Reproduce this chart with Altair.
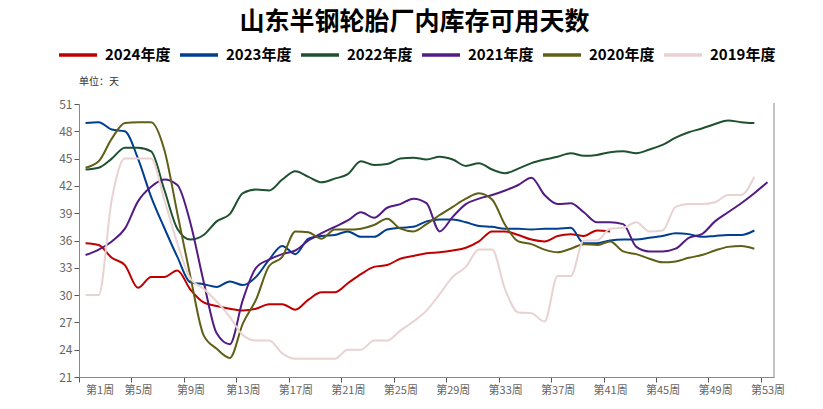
import altair as alt
import pandas as pd

weeks = list(range(1, 54))

s2024 = [35.7, 35.5, 34.1, 33.3, 30.8, 32.0, 32.0, 32.7, 30.6, 29.2, 28.8, 28.5, 28.3,
         28.5, 29.0, 29.0, 28.4, 29.5, 30.3, 30.3, 31.3, 32.3, 33.1, 33.3, 34.0, 34.3, 34.6,
         34.7, 34.9, 35.2, 35.9, 37.0, 37.0, 36.6, 36.1, 35.9, 36.5, 36.7, 36.5, 37.1, 37.0]
s2023 = [48.9, 49.0, 48.2, 48.0, 45.0, 40.8, 37.4, 34.2, 31.4, 31.2, 30.9, 31.5, 31.1,
         32.0, 33.9, 35.4, 34.5, 36.2, 36.5, 36.6, 37.0, 36.4, 36.4, 37.2, 37.4, 37.5, 38.1,
         38.3, 38.3, 38.0, 37.6, 37.5, 37.3, 37.3, 37.2, 37.3, 37.3, 37.4, 35.7, 35.7,
         36.0, 36.1, 36.1, 36.3, 36.5, 36.8, 36.7, 36.4, 36.5, 36.6, 36.6, 37.1]
s2022 = [43.8, 44.0, 45.0, 46.2, 46.2, 45.8, 41.6, 37.3, 36.1, 36.6, 38.1, 38.9, 41.2,
         41.6, 41.5, 42.7, 43.6, 43.0, 42.4, 42.8, 43.3, 44.7, 44.3, 44.4, 45.0, 45.1, 44.9,
         45.2, 44.9, 44.2, 44.5, 43.8, 43.4, 43.9, 44.5, 44.9, 45.2, 45.6, 45.3, 45.4,
         45.7, 45.8, 45.6, 46.0, 46.5, 47.3, 47.9, 48.3, 48.8, 49.2, 49.0, 48.9]
s2021 = [34.4, 35.0, 35.9, 37.3, 40.3, 41.9, 42.7, 42.1, 37.9, 31.5, 25.8, 24.6, 29.5,
         33.0, 33.9, 34.5, 34.9, 36.0, 36.8, 37.5, 38.2, 39.1, 38.5, 39.6, 40.0, 40.6, 40.1,
         37.0, 38.6, 40.0, 40.6, 41.0, 41.5, 42.1, 42.9, 41.0, 40.0, 40.1, 39.1, 38.0,
         38.0, 37.8, 35.3, 34.8, 34.8, 35.1, 36.3, 36.7, 38.1, 39.1, 40.1, 41.2, 42.4]
s2020 = [44.0, 44.7, 47.2, 48.9, 49.0, 49.0, 46.0, 39.0, 32.0, 25.6, 24.1, 23.1, 26.9,
         29.5, 33.2, 34.2, 37.0, 36.9, 36.2, 37.2, 37.2, 37.3, 37.7, 38.4, 37.3, 37.0, 37.8,
         38.8, 39.7, 40.6, 41.2, 40.5, 37.7, 35.9, 35.6, 35.0, 34.7, 35.1, 35.6, 35.5,
         35.9, 34.8, 34.5, 34.0, 33.6, 33.7, 34.1, 34.4, 34.9, 35.3, 35.4, 35.1]
s2019 = [30.0, 30.0, 40.5, 45.0, 45.0, 45.0, 40.5, 35.7, 31.8, 30.7, 29.3, 27.6, 25.6,
         25.0, 25.0, 23.6, 23.0, 23.0, 23.0, 23.0, 24.0, 24.0, 25.0, 25.0, 26.1, 27.1, 28.3,
         30.1, 32.0, 33.1, 35.0, 35.0, 30.6, 28.1, 28.0, 27.1, 32.1, 32.1, 36.0, 36.0,
         37.3, 37.4, 38.0, 37.0, 37.1, 39.7, 40.0, 40.0, 40.2, 41.0, 41.0, 43.0]

series_names = ["2024年度", "2023年度", "2022年度", "2021年度", "2020年度", "2019年度"]
series_vals = [s2024, s2023, s2022, s2021, s2020, s2019]
colors = ["#C00000", "#003E8F", "#1E5130", "#531B84", "#5F5F17", "#E8D2D2"]

y_ticks = list(range(21, 52, 3))
x_tick_vals = [w - 0.5 for w in range(1, 54, 4)]

rows = []
for name, vals in zip(series_names, series_vals):
    for w, v in zip(weeks, vals):
        rows.append({"week": w, "value": v, "series": name})
df = pd.DataFrame(rows)

FONT = "Noto Sans CJK SC"
W, H = 695, 273

lines = alt.Chart(df).mark_line(strokeWidth=2, interpolate="monotone").encode(
    x=alt.X("week:Q",
            scale=alt.Scale(domain=[0.5, 53.5], nice=False, zero=False),
            axis=alt.Axis(values=x_tick_vals, labelExpr="'第' + (datum.value + 0.5) + '周'",
                          labelOffset=6.6, title=None, grid=False, tickSize=5,
                          labelFontSize=11, labelColor="#666666", labelFont=FONT,
                          domainColor="#888888", tickColor="#555555", labelPadding=2)),
    y=alt.Y("value:Q",
            scale=alt.Scale(domain=[21, 51], nice=False, zero=False),
            axis=alt.Axis(values=y_ticks, title=None, grid=False, tickSize=5,
                          labelFontSize=12, labelColor="#666666", labelFont=FONT,
                          domainColor="#888888", tickColor="#555555", labelPadding=2)),
    color=alt.Color("series:N",
                    scale=alt.Scale(domain=series_names, range=colors),
                    sort=series_names,
                    legend=alt.Legend(title=None, orient="none", direction="horizontal",
                                      legendX=-22, legendY=-70,
                                      symbolType="stroke", symbolSize=1444,
                                      symbolStrokeWidth=3.5, labelFontSize=15,
                                      labelFontWeight="bold", labelFont=FONT,
                                      labelColor="#000000", labelOffset=6,
                                      columnPadding=2)),
    order=alt.Order("week:Q"),
)

right_line = alt.Chart(pd.DataFrame({"a": [0]})).mark_rule(color="#888888", strokeWidth=1).encode(
    x=alt.value(W), y=alt.value(-1), y2=alt.value(H)
)

unit = alt.Chart(pd.DataFrame({"t": ["单位：天"]})).mark_text(
    align="left", baseline="middle", fontSize=10, font=FONT, color="#333333"
).encode(x=alt.value(0), y=alt.value(-22), text="t:N")

chart = alt.layer(lines, right_line, unit).properties(
    width=W, height=H,
    title=alt.TitleParams("山东半钢轮胎厂内库存可用天数", anchor="middle", fontSize=25,
                          font=FONT, fontWeight="bold", color="#000000", dx=-12, offset=-1),
    autosize=alt.AutoSizeParams(type="none"),
    padding={"left": 71, "top": 96, "right": 41, "bottom": 24},
).configure_view(stroke=None)

chart.save("out.html", embed_options={"renderer": "svg", "actions": False})
